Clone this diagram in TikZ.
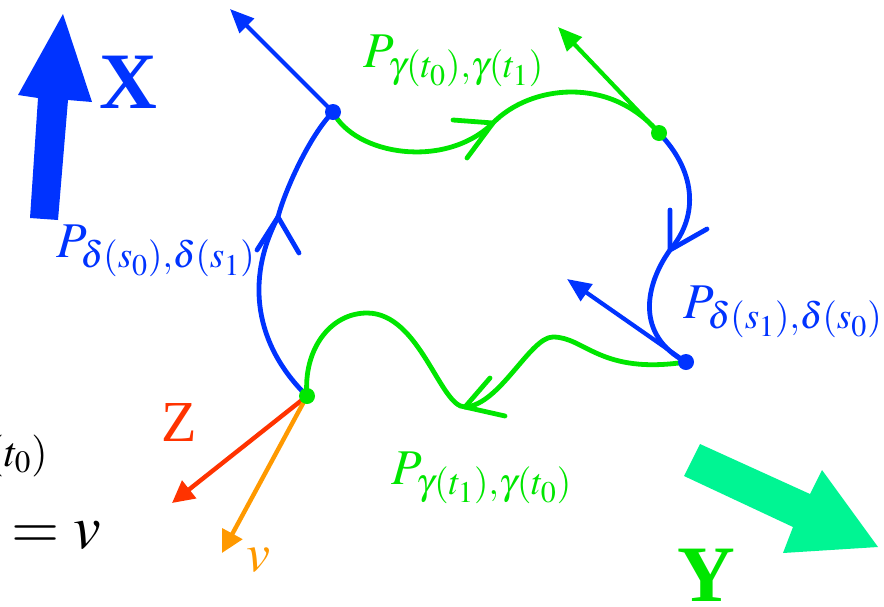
\documentclass[tikz,border=0pt]{standalone}
\usepackage{mathptmx}
\usepackage{fontspec}
\setmainfont{Liberation Serif}
\usepackage{tikz}
\usetikzlibrary{arrows.meta}
\definecolor{PathBlue}{HTML}{0033FF}
\definecolor{PathGreen}{HTML}{00E600}
\definecolor{FieldRed}{HTML}{FF3300}
\definecolor{FieldOrange}{HTML}{FF9900}
\definecolor{FlowGreen}{HTML}{00F593}
\begin{document}
\begin{tikzpicture}[x=0.5pt,y=-0.5pt,
  curve/.style={line width=2.4pt,line cap=round,line join=round},
  tangent/.style={line width=2.1pt,-{Triangle[length=12pt,width=10pt]}},
  field/.style={line width=2.2pt,-{Triangle[length=11pt,width=11pt]}},
  dot/.style={circle,inner sep=0,minimum size=8pt},
  lbl/.style={inner sep=0,font=\fontsize{25}{27}\selectfont},
  axis/.style={inner sep=0,font=\fontsize{40}{40}\selectfont\bfseries}
]
  \clip (0,0) rectangle (884,606);
  % corners of the loop
  \coordinate (cNW) at (333,112);
  \coordinate (cNE) at (659,133);
  \coordinate (cSE) at (686,362);
  \coordinate (cSW) at (307,396);
  % where the arrows on the loop sit
  \coordinate (mN) at (493,123);
  \coordinate (mE) at (670,250);
  \coordinate (mS) at (465,407);
  \coordinate (mW) at (278,217);
  % free ends of the tangent vectors
  \coordinate (tNW) at (230,9);
  \coordinate (tNE) at (558,27);
  \coordinate (tSE) at (567,279);
  \coordinate (tZ) at (172,503);
  \coordinate (tV) at (222,553);

  % big field arrows
  \fill[PathBlue] (30,218) -- (58,220) -- (68,100) -- (92,102) -- (63,14) -- (18,95) -- (38,98) -- cycle;
  \fill[FlowGreen] (700,444) -- (810,494) -- (822,470) -- (878,547) -- (783,553) -- (793,527) -- (684,476) -- cycle;
  \node[axis,text=PathBlue] (labX) at (128,82) {X};
  \node[axis,text=PathGreen] (labY) at (706,575) {Y};

  % blue sides
  \draw[curve,PathBlue] (cSW) .. controls (255,345) and (245,280) .. (mW)
    .. controls (285,190) and (310,135) .. (cNW);
  \draw[curve,PathBlue] (mW) ++(-21,33) -- (mW) -- ++(21,36);
  \draw[curve,PathBlue] (cNE) .. controls (695,170) and (700,215) .. (mE)
    .. controls (645,285) and (635,335) .. (cSE);
  \draw[curve,PathBlue] (mE) ++(0,-40) -- (mE) -- ++(37,-21);
  % green sides
  \draw[curve,PathGreen] (cNW) .. controls (355,155) and (445,170) .. (mN)
    .. controls (530,85) and (610,75) .. (cNE);
  \draw[curve,PathGreen] (mN) ++(-40,-3) -- (mN) -- ++(-26,35);
  \draw[curve,PathGreen] (cSE) .. controls (600,375) and (585,337) .. (553,337)
    .. controls (530,337) and (500,405) .. (mS)
    .. controls (440,407) and (420,313) .. (367,313)
    .. controls (330,313) and (303,350) .. (cSW);
  \draw[curve,PathGreen] (mS) ++(25,-29) -- (mS) -- ++(40,9);

  % tangent vectors
  \draw[tangent,PathBlue] (cNW) -- (tNW);
  \draw[tangent,PathGreen] (cNE) -- (tNE);
  \draw[tangent,PathBlue] (cSE) -- (tSE);
  \draw[field,FieldRed] (cSW) -- (tZ);
  \draw[field,FieldOrange] (cSW) -- (tV);

  % points
  \node[dot,fill=PathBlue] (pNW) at (cNW) {};
  \node[dot,fill=PathGreen] (pNE) at (cNE) {};
  \node[dot,fill=PathBlue] (pSE) at (cSE) {};
  \node[dot,fill=PathGreen] (pSW) at (cSW) {};

  % labels
  \node[lbl,text=PathBlue] (labW) at (156,251) {$P_{\delta(s_0),\delta(s_1)}$};
  \node[lbl,text=PathGreen] (labN) at (454,61) {$P_{\gamma(t_0),\gamma(t_1)}$};
  \node[lbl,text=PathBlue] (labE) at (783,312) {$P_{\delta(s_1),\delta(s_0)}$};
  \node[lbl,text=PathGreen] (labS) at (482,478) {$P_{\gamma(t_1),\gamma(t_0)}$};
  \node[inner sep=0,text=FieldRed,font=\fontsize{29}{30}\selectfont] (labZ) at (179,423) {Z};
  \node[inner sep=0,text=FieldOrange,font=\fontsize{27}{28}\selectfont] (labV) at (258,560) {$v$};
  \node[inner sep=0,anchor=east,font=\fontsize{21}{22}\selectfont] (labT) at (48,456) {$(t_0)$};
  \node[inner sep=0,anchor=east,font=\fontsize{31}{32}\selectfont] (labEq) at (101,536) {$=v$};
\end{tikzpicture}
\end{document}
